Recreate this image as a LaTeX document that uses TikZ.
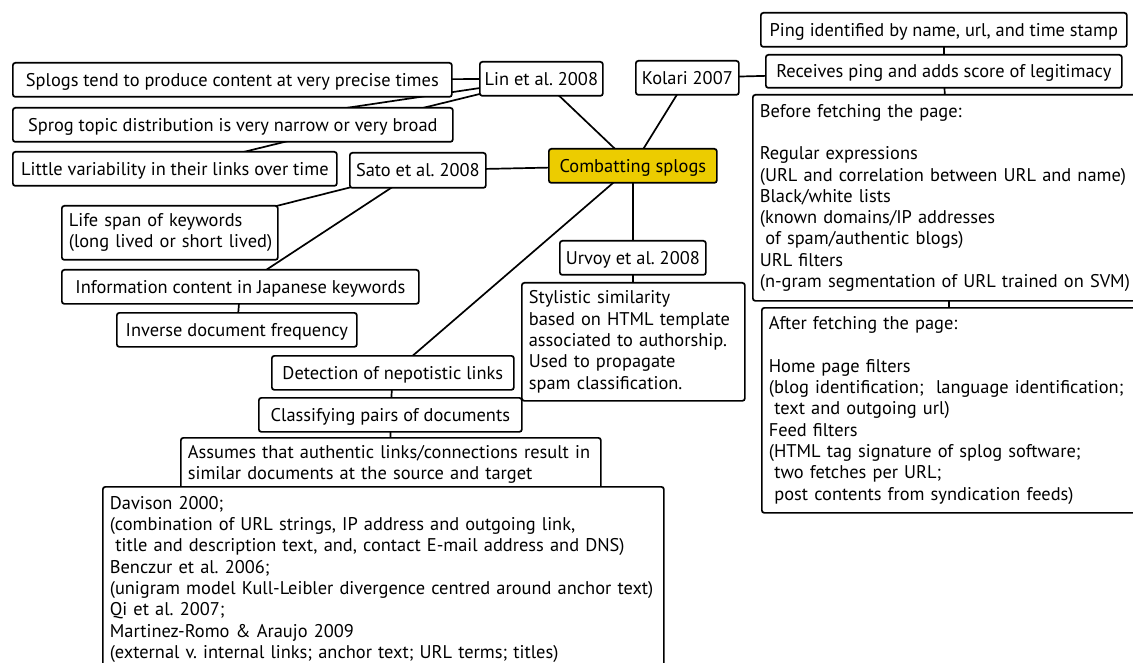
\documentclass[tikz,border=0pt]{standalone}
\usepackage{fontspec}
\setmainfont{PT Sans}
\usetikzlibrary{backgrounds}
\definecolor{rootfill}{RGB}{236,204,0}
\newcommand\mapfont{\fontsize{18.4}{21.3}\selectfont\frenchspacing}
% one unbreakable line of a multi-line box
\newcommand\rowtext[1]{\mbox{#1}}
\tikzset{
  frame/.style={draw, line width=1.7pt, rounded corners=2.5pt, fill=white,
    inner ysep=0pt, anchor=north west, font=\mapfont},
  box/.style={frame, inner xsep=3pt, text height=14.5pt, text depth=1.5pt,
    minimum height=34pt},
  para/.style={frame, inner xsep=7pt, align=left},
  link/.style={line width=1.7pt}
}
\begin{document}
\begin{tikzpicture}[x=1pt,y=-1pt]
\useasboundingbox (0,0) rectangle (1133,663);
% right-hand branch
\node[box, minimum width=366pt] (ping) at (760,12) {Ping identified by name, url, and time stamp};
\node[box, minimum width=356pt, minimum height=33pt] (recv) at (765,54) {Receives ping and adds score of legitimacy};
\node[para, text width=378pt, minimum height=206pt] (before) at (752,94) {\rowtext{Before fetching the page:}\\[21.3pt]
\rowtext{Regular expressions}\\
\rowtext{(URL and correlation between URL and name)}\\
\rowtext{Black/white lists}\\
\rowtext{(known domains/IP addresses}\\
\rowtext{\hspace*{0.3em}of spam/authentic blogs)}\\
\rowtext{URL filters}\\
\rowtext{(n-gram segmentation of URL trained on SVM)}};
\node[para, text width=360pt, minimum height=205pt] (after) at (761,307) {\rowtext{After fetching the page:}\\[21.3pt]
\rowtext{Home page filters}\\
\rowtext{(blog identification;\ \ language identification;}\\
\rowtext{\hspace*{0.3em}text and outgoing url)}\\
\rowtext{Feed filters}\\
\rowtext{(HTML tag signature of splog software;}\\
\rowtext{\hspace*{0.3em}two fetches per URL;}\\
\rowtext{\hspace*{0.3em}post contents from syndication feeds)}};
\node[box, minimum width=103pt] (kolari) at (635,60) {Kolari 2007};
% root
\node[box, fill=rootfill, minimum width=168pt] (comb) at (548,148) {Combatting splogs};
% left-hand branches
\node[box, minimum width=123pt] (lin) at (479,61) {Lin et al. 2008};
\node[box, minimum width=439pt] (splogs) at (12,62) {Splogs tend to produce content at very precise times};
\node[box, minimum width=440pt] (sprog) at (12,107) {Sprog topic distribution is very narrow or very broad};
\node[box, minimum width=324pt] (little) at (12,151) {Little variability in their links over time};
\node[box, minimum width=136pt, minimum height=35pt] (sato) at (349,152) {Sato et al. 2008};
\node[para, text width=202pt, minimum height=54pt] (life) at (61,205) {\rowtext{Life span of keywords}\\\rowtext{(long lived or short lived)}};
\node[box, minimum width=357pt] (info) at (61,269) {Information content in Japanese keywords};
\node[box, minimum width=240pt] (inverse) at (116,312) {Inverse document frequency};
% lower branches
\node[box, minimum width=146pt] (urvoy) at (559,240) {Urvoy et al. 2008};
\node[para, text width=209pt, minimum height=118pt] (style) at (521,282) {\rowtext{Stylistic similarity}\\
\rowtext{based on HTML template}\\
\rowtext{associated to authorship.}\\
\rowtext{Used to propagate}\\
\rowtext{spam classification.}};
\node[box, minimum width=242pt] (detect) at (271,355) {Detection of nepotistic links};
\node[box, minimum width=263pt] (classify) at (258,397) {Classifying pairs of documents};
\node[para, text width=406pt, minimum height=53pt] (assumes) at (180,437) {\rowtext{Assumes that authentic links/connections result in}\\\rowtext{similar documents at the source and target}};
\node[para, text width=547pt, minimum height=185pt] (davison) at (102,486) {\rowtext{Davison 2000;}\\
\rowtext{(combination of URL strings, IP address and outgoing link,}\\
\rowtext{\hspace*{0.3em}title and description text, and, contact E-mail address and DNS)}\\
\rowtext{Benczur et al. 2006;}\\
\rowtext{(unigram model Kull-Leibler divergence centred around anchor text)}\\
\rowtext{Qi et al. 2007;}\\
\rowtext{Martinez-Romo \& Araujo 2009}\\
\rowtext{(external v. internal links; anchor text; URL terms; titles)}};
% connectors, centre to centre, behind the boxes
\begin{pgfonlayer}{background}
\draw[link] (comb.center) -- (lin.center);
\draw[link] (comb.center) -- (kolari.center);
\draw[link] (comb.center) -- (sato.center);
\draw[link] (comb.center) -- (urvoy.center);
\draw[link] (comb.center) -- (detect.center);
\draw[link] (lin.center) -- (splogs.center);
\draw[link] (lin.center) -- (sprog.center);
\draw[link] (lin.center) -- (little.center);
\draw[link] (sato.center) -- (life.center);
\draw[link] (sato.center) -- (info.center);
\draw[link] (info.center) -- (inverse.center);
\draw[link] (urvoy.center) -- (style.center);
\draw[link] (detect.center) -- (classify.center);
\draw[link] (classify.center) -- (assumes.center);
\draw[link] (assumes.center) -- (davison.center);
\draw[link] (kolari.center) -- (recv.center);
\draw[link] (recv.center) -- (ping.center);
\draw[link] (recv.center) -- (before.center);
\draw[link] (before.center) -- (after.center);
\end{pgfonlayer}
\end{tikzpicture}
\end{document}
